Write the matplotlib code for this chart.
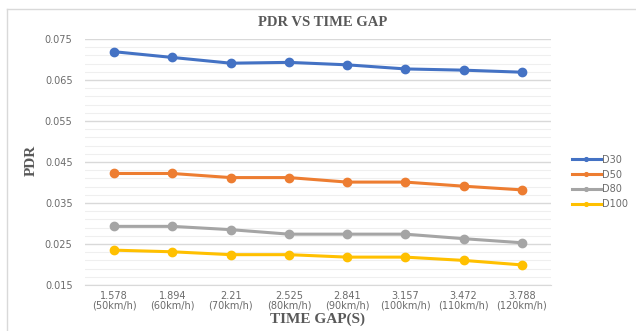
import numpy as np
import matplotlib.pyplot as plt
from matplotlib.lines import Line2D

# data
categories = ['1.578\n(50km/h)', '1.894\n(60km/h)', '2.21\n(70km/h)', '2.525\n(80km/h)',
              '2.841\n(90km/h)', '3.157\n(100km/h)', '3.472\n(110km/h)', '3.788\n(120km/h)']
d30 = [0.0719, 0.0705, 0.0691, 0.0693, 0.0687, 0.0677, 0.0674, 0.0669]
d50 = [0.0422, 0.0422, 0.0412, 0.0412, 0.0401, 0.0401, 0.0391, 0.0382]
d80 = [0.0293, 0.0293, 0.0285, 0.0274, 0.0274, 0.0274, 0.0263, 0.0253]
d100 = [0.0235, 0.0231, 0.0224, 0.0224, 0.0218, 0.0218, 0.0210, 0.0199]

series = [('D30', d30, '#4472C4'), ('D50', d50, '#ED7D31'),
          ('D80', d80, '#A5A5A5'), ('D100', d100, '#FFC000')]

fig = plt.figure(figsize=(6.36, 3.31), dpi=100)
W, H = 636, 331
ax = fig.add_axes([85 / W, 1 - 285 / H, (551 - 85) / W, (285 - 39) / H])

# chart border: only the top and left edges are inside the picture
fig.lines.append(Line2D([7 / W, 1], [1 - 9 / H, 1 - 9 / H], transform=fig.transFigure,
                        color='#d9d9d9', linewidth=1))
fig.lines.append(Line2D([7 / W, 7 / W], [0, 1 - 9 / H], transform=fig.transFigure,
                        color='#d9d9d9', linewidth=1))

x = np.arange(len(categories))
for name, vals, col in series:
    ax.plot(x, vals, color=col, linewidth=2.2, marker='o', markersize=6, label=name)

ax.set_xlim(-0.5, len(categories) - 0.5)
ax.set_ylim(0.015, 0.075)
ax.set_yticks(np.arange(0.015, 0.0751, 0.01))
ax.set_yticklabels([f'{v:.3f}' for v in np.arange(0.015, 0.0751, 0.01)])
ax.set_yticks(np.arange(0.015, 0.0751, 0.002), minor=True)
ax.set_xticks(x)
ax.set_xticklabels(categories, linespacing=1.05)

ax.grid(axis='y', which='major', color='#d9d9d9', linewidth=1)
ax.grid(axis='y', which='minor', color='#efefef', linewidth=0.8)
ax.set_axisbelow(True)
for s in ['top', 'right', 'left']:
    ax.spines[s].set_visible(False)
ax.spines['bottom'].set_color('#d9d9d9')
ax.tick_params(which='both', length=0, colors='#6b6b6b', labelsize=7)
ax.tick_params(axis='y', pad=9)
ax.tick_params(axis='x', pad=4)

fig.text(323 / W, 1 - 22 / H, 'PDR VS TIME GAP', ha='center', va='center',
         family='Liberation Serif', fontweight='bold', fontsize=10.5, color='#595959')
fig.text(318 / W, 1 - 319 / H, 'TIME GAP(S)', ha='center', va='center',
         family='Liberation Serif', fontweight='bold', fontsize=11, color='#595959')
fig.text(31 / W, 1 - 160 / H, 'PDR', ha='center', va='center', rotation=90,
         family='Liberation Serif', fontweight='bold', fontsize=11, color='#595959')

fig.legend(loc='upper left', bbox_to_anchor=(563 / W, 1 - 146 / H), frameon=False,
           fontsize=7, labelcolor='#6b6b6b', handlelength=3.0, handletextpad=0.1,
           labelspacing=0.5, markerscale=0.45)

fig.savefig('out.png', dpi=100)
